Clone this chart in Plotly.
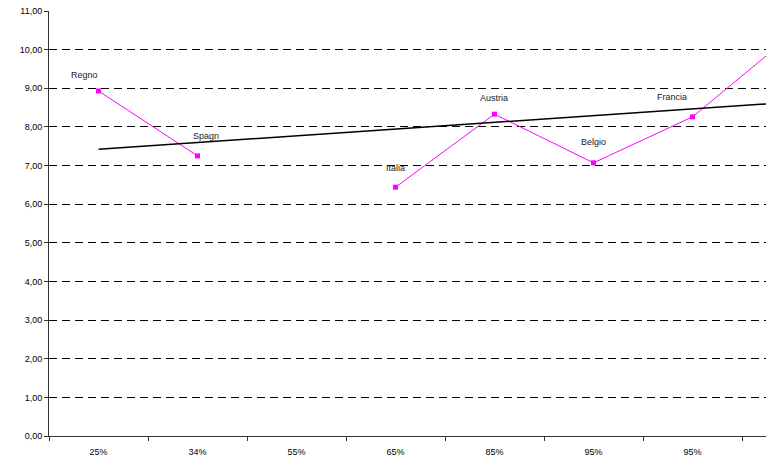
import plotly.graph_objects as go

categories = ["25%", "34%", "55%", "65%", "85%", "95%", "95%", "100%"]
countries = ["Regno", "Spagn", "", "Italia", "Austria", "Belgio", "Francia", "Germania"]
values = [8.93, 7.25, None, 6.44, 8.33, 7.07, 8.26, 10.38]
trend_idx = [0, 7]
trend_vals = [7.42, 8.64]
y_ticks = list(range(0, 12))

# label offsets in pixels (style)
label_dx = [-14, 8, 0, 0, -1, 0, -21, 0]
label_dy = [16, 20, 0, 19, 16, 21, 20, 20]

x_idx = list(range(len(categories)))
FONT = "Liberation Sans, Arial, sans-serif"

fig = go.Figure()
fig.add_trace(go.Scatter(
    x=x_idx, y=values, mode="lines+markers",
    line=dict(color="#FF00FF", width=1),
    marker=dict(color="#FF00FF", size=5, symbol="square"),
    connectgaps=False, showlegend=False, hoverinfo="skip",
))
fig.add_trace(go.Scatter(
    x=trend_idx, y=trend_vals, mode="lines",
    line=dict(color="#000000", width=1.5),
    showlegend=False, hoverinfo="skip",
))
# off-range label (Germania) as text trace so it isn't hidden
fig.add_trace(go.Scatter(
    x=[x_idx[7]], y=[values[7]], mode="text",
    text=[countries[7] + "\u00a0" * 7 + "<br>\u00a0"],
    textposition="top center", cliponaxis=False,
    textfont=dict(family=FONT, size=9, color="#222222"),
    showlegend=False, hoverinfo="skip",
))

for i, (c, v) in enumerate(zip(countries[:7], values[:7])):
    if v is None or not c:
        continue
    fig.add_annotation(
        x=x_idx[i], y=v, text=c, showarrow=False,
        xshift=label_dx[i], yshift=label_dy[i],
        font=dict(family=FONT, size=9, color="#222222"),
    )

fig.update_layout(
    width=766, height=459,
    margin=dict(l=49, r=0, t=11, b=23, autoexpand=False),
    paper_bgcolor="white", plot_bgcolor="white",
    separators=",.",
    font=dict(family=FONT, size=9, color="#000000"),
    xaxis=dict(
        range=[-0.5, (766 - 49) / 99 - 0.5],
        tickmode="array", tickvals=x_idx, ticktext=categories,
        ticks="", showgrid=False, zeroline=False, automargin=False,
        ticklabelstandoff=7,
        showline=True, linecolor="#333333", linewidth=1,
        tickfont=dict(family=FONT, size=9, color="#000000"),
        minor=dict(tickmode="linear", tick0=-0.5, dtick=1, ticks="outside",
                   ticklen=4, tickcolor="#333333", showgrid=False),
        fixedrange=True,
    ),
    yaxis=dict(
        range=[0, 11], tickmode="array", tickvals=y_ticks,
        tickformat=".2f", automargin=False,
        ticks="outside", ticklen=4, tickcolor="#333333",
        showgrid=True, gridcolor="#000000", gridwidth=1, griddash="8px,5px",
        zeroline=False, showline=True, linecolor="#333333", linewidth=1,
        tickfont=dict(family=FONT, size=9, color="#000000"),
        fixedrange=True,
    ),
)

fig.write_html(
    "out.html",
    config={"displayModeBar": False},
    post_script="document.body.style.margin='0';document.body.style.overflow='hidden';",
)
